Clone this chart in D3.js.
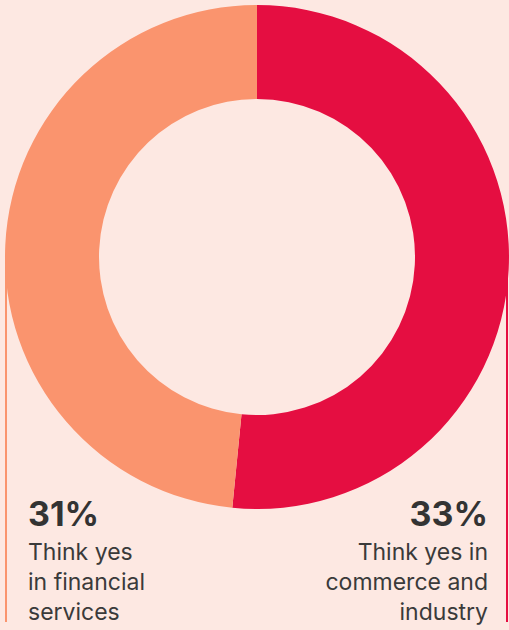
<!DOCTYPE html>
<html>
<head>
<meta charset="utf-8">
<script src="https://cdn.jsdelivr.net/npm/d3@7"></script>
<style>
  html, body { margin: 0; padding: 0; background: #fde8e2; }
  svg { display: block; }
</style>
</head>
<body>
<div id="chart"></div>
<script>
// data
var categories = ["commerce and industry", "financial services"];
var values = [33, 31];
var valueLabels = ["33%", "31%"];
var captions = [["Think yes in", "commerce and", "industry"], ["Think yes", "in financial", "services"]];
var colors = ["#e50e41", "#fa946e"];

var width = 509, height = 630;
var cx = 257, cy = 257;
var outerR = 252, innerR = 158;

var svg = d3.select("#chart").append("svg")
  .attr("width", width)
  .attr("height", height);

svg.append("rect")
  .attr("width", width).attr("height", height)
  .attr("fill", "#fde8e2");

// leader lines down the sides
var sideX = [507, 6];
svg.selectAll(".lead").data(values).enter()
  .append("line")
  .attr("x1", function(d, i) { return sideX[i]; })
  .attr("x2", function(d, i) { return sideX[i]; })
  .attr("y1", cy)
  .attr("y2", 622)
  .attr("stroke", function(d, i) { return colors[i]; })
  .attr("stroke-width", 2);

var pie = d3.pie().sort(null).value(function(d) { return d; });
var arc = d3.arc().innerRadius(innerR).outerRadius(outerR);

var g = svg.append("g")
  .attr("transform", "translate(" + cx + "," + cy + ")");

g.selectAll("path").data(pie(values)).enter()
  .append("path")
  .attr("d", arc)
  .attr("fill", function(d, i) { return colors[i]; });

// labels
var labelX = [488, 28];
var anchors = ["end", "start"];
var font = "Inter, 'Noto Sans', sans-serif";

var lab = svg.selectAll(".lab").data(categories).enter()
  .append("g")
  .attr("class", "lab");

lab.append("text")
  .attr("x", function(d, i) { return labelX[i]; })
  .attr("y", 526)
  .attr("text-anchor", function(d, i) { return anchors[i]; })
  .attr("font-family", font)
  .attr("font-weight", 700)
  .attr("font-size", "34px")
  .attr("fill", "#333333")
  .text(function(d, i) { return valueLabels[i]; });

lab.each(function(d, i) {
  d3.select(this).selectAll(".cap").data(captions[i]).enter()
    .append("text")
    .attr("x", labelX[i])
    .attr("y", function(t, j) { return 560 + j * 30; })
    .attr("text-anchor", anchors[i])
    .attr("font-family", font)
    .attr("font-size", "23px")
    .attr("fill", "#3a3a3a")
    .text(function(t) { return t; });
});
</script>
</body>
</html>
